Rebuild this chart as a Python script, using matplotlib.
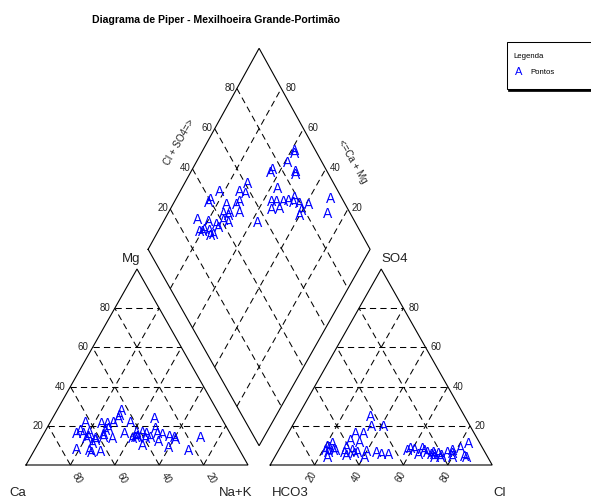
import numpy as np
import matplotlib
matplotlib.use('Agg')
import matplotlib.pyplot as plt
from matplotlib import transforms
from matplotlib.patches import Rectangle

plt.rcParams['font.family'] = ['Liberation Sans', 'DejaVu Sans']

# ---------------- data (percent of meq) ----------------
Ca = [41.7, 43.3, 45.1, 47.2, 41.7, 39.5, 42.2, 49.5, 42.7, 65.6, 55.3, 62.8,
      22.8, 62.0, 66.3, 46.6, 43.1, 64.6, 39.1, 37.3, 36.6, 32.8, 34.2, 30.4,
      28.1, 25.9, 30.4, 32.3, 31.1, 25.8, 14.2, 57.9, 54.0, 62.1, 53.2, 68.8,
      66.1, 61.7, 45.0, 42.3, 73.1, 64.3, 55.3, 67.2, 52.4, 63.0, 67.5, 57.2]
Mg = [17.0, 14.4, 13.6, 16.5, 22.1, 13.6, 10.2, 22.1, 14.1, 16.5, 17.9, 7.3,
      7.7, 22.1, 17.9, 23.8, 28.1, 11.1, 17.0, 16.5, 14.4, 16.2, 12.4, 15.8,
      14.8, 13.1, 23.8, 18.7, 9.3, 14.1, 14.1, 14.4, 13.6, 12.8, 19.0, 16.5,
      13.6, 13.6, 25.5, 15.0, 8.0, 15.0, 21.3, 6.8, 21.3, 17.0, 7.7, 16.0]
NaK = [41.3, 42.3, 41.3, 36.3, 36.2, 46.9, 47.6, 28.4, 43.2, 17.9, 26.8, 29.9,
       69.5, 15.9, 15.8, 29.6, 28.8, 24.3, 43.9, 46.2, 49.0, 51.0, 53.4, 53.8,
       57.1, 61.0, 45.8, 49.0, 59.6, 60.1, 71.7, 27.7, 32.4, 25.1, 27.8, 14.7,
       20.3, 24.7, 29.5, 42.7, 18.9, 20.7, 23.4, 26.0, 26.3, 20.0, 24.8, 26.8]
HCO3 = [9.6, 10.0, 15.6, 24.0, 25.8, 14.3, 14.9, 39.0, 26.5, 53.1, 44.6, 42.3,
        5.0, 59.2, 61.0, 46.8, 48.9, 53.4, 32.6, 30.3, 27.2, 24.7, 21.0, 23.0,
        20.2, 16.7, 34.4, 30.8, 21.2, 23.2, 10.2, 53.9, 49.6, 57.3, 55.5, 70.3,
        66.1, 62.9, 57.2, 44.0, 72.1, 69.4, 67.6, 66.7, 63.0, 71.7, 68.4, 59.1]
SO4 = [4.2, 4.6, 4.2, 4.2, 6.8, 7.5, 6.0, 19.9, 7.7, 7.0, 19.9, 25.0,
       11.4, 7.7, 9.0, 5.6, 6.8, 16.2, 8.5, 5.6, 8.5, 5.6, 6.0, 5.6,
       5.0, 6.8, 7.7, 8.2, 4.2, 6.8, 8.5, 11.9, 16.5, 12.8, 4.2, 6.8,
       11.4, 6.8, 6.8, 5.6, 4.2, 9.7, 7.7, 7.7, 5.1, 7.7, 9.3, 6.0]
Cl = [86.2, 85.4, 80.2, 71.8, 67.4, 78.2, 79.1, 41.1, 65.8, 39.9, 35.5, 32.7,
      83.6, 33.1, 30.0, 47.6, 44.3, 30.4, 58.9, 64.1, 64.3, 69.7, 73.0, 71.4,
      74.8, 76.5, 57.9, 61.0, 74.6, 70.0, 81.3, 34.2, 33.9, 29.9, 40.3, 22.9,
      22.5, 30.3, 36.0, 50.4, 23.7, 20.9, 24.7, 25.6, 31.9, 21.2, 22.3, 34.9]
tick_values = [20, 40, 60, 80]

title = "Diagrama de Piper - Mexilhoeira Grande-Portim\u00e3o"
marker_label = "A"
legend_title = "Legenda"
legend_entry = "Pontos"

# ---------------- figure / axes ----------------
W, H = 591, 499
fig = plt.figure(figsize=(W / 100, H / 100), dpi=100)
ax = fig.add_axes([0, 0, 1, 1])
sx, sy = 222.0, 226.3
x0px, y0px = 26.0, 465.0
ax.set_xlim(-x0px / sx, (W - x0px) / sx)
ax.set_ylim(-(H - y0px) / sy, y0px / sy)
ax.axis('off')

h = np.sqrt(3) / 2
g = 0.1
xoff = 1 + g
# diamond vertices
L = np.array([0.55, (465 - 249.3) / sy])
B = np.array([1.05, (465 - 445.7) / sy])
R = np.array([1.55, (465 - 249.3) / sy])
T = np.array([1.05, (465 - 48.3) / sy])


def cat_xy(n, m):
    return n + 0.5 * m, h * m


def an_xy(cl, so4):
    return xoff + cl + 0.5 * so4, h * so4


def dia_xy(n, s):
    n = np.asarray(n, float)
    s = np.asarray(s, float)
    P = ((1 - n) * (1 - s))[..., None] * L + (n * (1 - s))[..., None] * B \
        + (n * s)[..., None] * R + ((1 - n) * s)[..., None] * T
    return P[..., 0], P[..., 1]


lw = 0.8
dash = dict(color='black', lw=0.75, linestyle=(0, (6, 4)))
solid = dict(color='black', lw=lw, solid_joinstyle='miter')

# outlines
ax.plot([0, 1, 0.5, 0], [0, 0, h, 0], **solid)
ax.plot([xoff, xoff + 1, xoff + 0.5, xoff], [0, 0, h, 0], **solid)
ax.plot([L[0], B[0], R[0], T[0], L[0]], [L[1], B[1], R[1], T[1], L[1]], **solid)

for v in tick_values:
    k = v / 100
    # left triangle
    ax.plot([k / 2, 1 - k / 2], [h * k, h * k], **dash)
    ax.plot([1 - k, 0.5 * (1 - k)], [0, h * (1 - k)], **dash)
    ax.plot([k, k + 0.5 * (1 - k)], [0, h * (1 - k)], **dash)
    # right triangle
    ax.plot([xoff + k / 2, xoff + 1 - k / 2], [h * k, h * k], **dash)
    ax.plot([xoff + 1 - k, xoff + 0.5 * (1 - k)], [0, h * (1 - k)], **dash)
    ax.plot([xoff + k, xoff + k + 0.5 * (1 - k)], [0, h * (1 - k)], **dash)
    # diamond
    xa, ya = dia_xy([k, k], [0, 1])
    ax.plot(xa, ya, **dash)
    xb, yb = dia_xy([0, 1], [k, k])
    ax.plot(xb, yb, **dash)

tfs = 7


def lab(x, y, dx, dy, s, **kw):
    ax.annotate(s, (x, y), xytext=(dx, dy), textcoords='offset pixels',
                fontsize=kw.pop('fontsize', tfs), color='#222222', **kw)


for v in tick_values:
    k = v / 100
    # Mg on left side of cation triangle
    lab(0.5 * k, h * k, -4.5, 0, str(v), ha='right', va='center')
    # Ca along base (Ca = v at x = 1 - k)
    lab(1 - k, 0, 7, -13, str(v), ha='center', va='center', rotation=-60)
    # Cl along anion base
    lab(xoff + k, 0, -2.5, -12, str(v), ha='center', va='center', rotation=60)
    # SO4 on right side of anion triangle
    lab(xoff + 1 - 0.5 * k, h * k, 5, 0, str(v), ha='left', va='center')
    # diamond upper-left: Cl+SO4
    px, py = dia_xy(0, k)
    lab(float(px), float(py), -2, 1, str(v), ha='right', va='center')
    # diamond upper-right: Ca+Mg
    px, py = dia_xy(1 - k, 1)
    lab(float(px), float(py), 4, 1, str(v), ha='left', va='center')

# ---------------- points ----------------
Ca_a, Mg_a, Na_a = map(np.asarray, (Ca, Mg, NaK))
HC_a, SO_a, Cl_a = map(np.asarray, (HCO3, SO4, Cl))
ctot = Ca_a + Mg_a + Na_a
atot = HC_a + SO_a + Cl_a
n = Na_a / ctot
m = Mg_a / ctot
cl = Cl_a / atot
so4 = SO_a / atot
s = cl + so4

pfs = 10
cap = pfs / 72 * 100 * 0.716
ptrans = transforms.offset_copy(ax.transData, fig=fig, x=0, y=-cap / 2, units='dots')
pts = [cat_xy(n, m), an_xy(cl, so4), dia_xy(n, s)]
for xs, ys in pts:
    for xi, yi in zip(xs, ys):
        ax.text(xi, yi, marker_label, transform=ptrans, color='#0000FF',
                fontsize=pfs, ha='center', va='baseline')

# ---------------- labels in pixel positions ----------------
def ftext(x, y, s, **kw):
    fig.text(x / W, 1 - y / H, s, **kw)


lfs = 9.5
ftext(131, 259, "Mg", ha='center', va='center', fontsize=lfs, color='#222222')
ftext(395, 259, "SO4", ha='center', va='center', fontsize=lfs, color='#222222')
ftext(18, 493, "Ca", ha='center', va='center', fontsize=lfs, color='#222222')
ftext(236, 493, "Na+K", ha='center', va='center', fontsize=lfs, color='#222222')
ftext(290, 493, "HCO3", ha='center', va='center', fontsize=lfs, color='#222222')
ftext(500, 493, "Cl", ha='center', va='center', fontsize=lfs, color='#222222')
ftext(179, 142, "Cl + SO4=>", ha='center', va='center', fontsize=tfs,
      rotation=60, color='#222222')
ftext(352, 162, "<=Ca + Mg", ha='center', va='center', fontsize=tfs,
      rotation=-60, color='#222222')

ftext(216, 20, title, ha='center', va='center', fontsize=7.6, fontweight='bold')

# legend
fig.patches.append(Rectangle((508 / W, 1 - 91 / H), 95 / W, 48 / H,
                             transform=fig.transFigure, facecolor='black',
                             edgecolor='black', lw=0.5))
fig.patches.append(Rectangle((507 / W, 1 - 89 / H), 95 / W, 47 / H,
                             transform=fig.transFigure, facecolor='white',
                             edgecolor='black', lw=0.75))
ftext(513, 56, legend_title, ha='left', va='center', fontsize=5.6)
ftext(519, 72, marker_label, ha='center', va='center', fontsize=8, color='#0000FF')
ftext(530, 72, legend_entry, ha='left', va='center', fontsize=5.6)

fig.savefig('out.png', dpi=100)
